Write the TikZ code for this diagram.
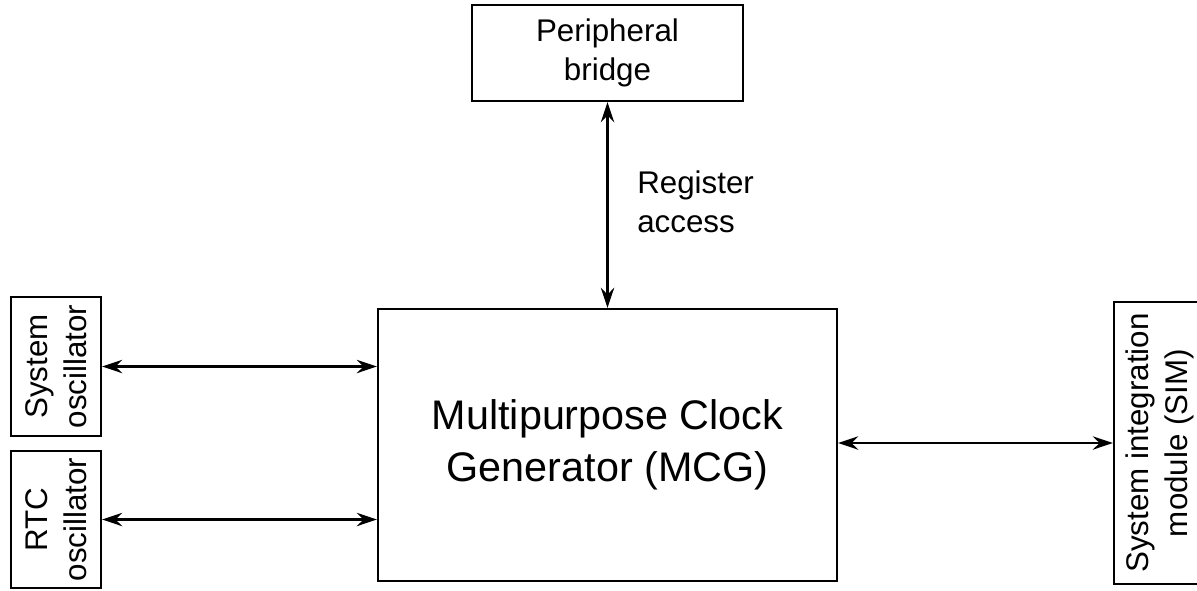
\documentclass[tikz,border=0pt]{standalone}
\usepackage{fontspec}
\setmainfont{Liberation Sans}
\usetikzlibrary{arrows.meta}
\tikzset{mcgbox/.style={draw, line width=1.7pt, rectangle, align=center, inner sep=0pt, font=\fontsize{23.5}{29}\selectfont},
  mcgarrow/.style={{Stealth[length=15pt, width=10pt, inset=5pt]}-{Stealth[length=15pt, width=10pt, inset=5pt]}, line width=1.8pt}}

\begin{document}
\begin{tikzpicture}[x=0.75pt, y=-0.75pt]
\useasboundingbox (0,0) rectangle (1197,590);
\node[mcgbox, minimum width=344.25pt, minimum height=204pt, font=\fontsize{31}{39}\selectfont] (mcg) at (607.5,445) {Multipurpose Clock\\Generator (MCG)};
\node[mcgbox, minimum width=203.25pt, minimum height=72pt] (pbr) at (607.5,53) {Peripheral\\bridge};
\node[mcgbox, rotate=90, minimum width=104.25pt, minimum height=67.5pt] (sysosc) at (56,366.5) {System\\oscillator};
\node[mcgbox, rotate=90, minimum width=102.75pt, minimum height=67.5pt] (rtcosc) at (56,519.5) {RTC\\oscillator};
\node[mcgbox, rotate=90, minimum width=211.5pt, minimum height=69pt] (sim) at (1160,443) {System integration\\module (SIM)};
\draw[mcgarrow] (pbr) -- (pbr |- mcg.north);
\draw[mcgarrow] (sysosc.south) -- (sysosc.south -| mcg.west);
\draw[mcgarrow] (rtcosc.south) -- (rtcosc.south -| mcg.west);
\draw[mcgarrow] (sim.north -| mcg.east) -- (sim.north);
\node[anchor=west, align=left, inner sep=0pt, font=\fontsize{23.5}{29}\selectfont] (regacc) at (637,202) {Register\\access};
\end{tikzpicture}
\end{document}
